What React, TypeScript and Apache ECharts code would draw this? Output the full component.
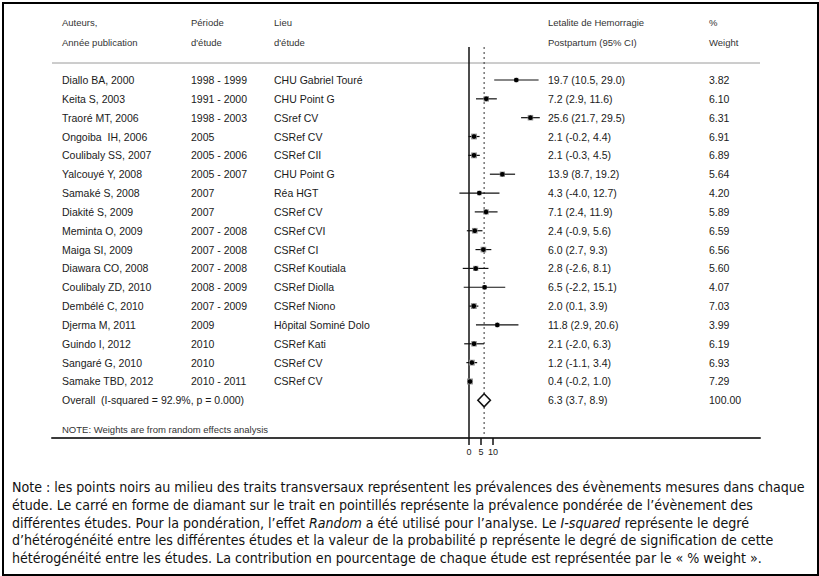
import React, { useEffect, useRef } from "react";
import * as echarts from "echarts";

// ---------- data ----------
const authors = [
  "Diallo BA, 2000", "Keita S, 2003", "Traoré MT, 2006", "Ongoiba  IH, 2006",
  "Coulibaly SS, 2007", "Yalcouyé Y, 2008", "Samaké S, 2008", "Diakité S, 2009",
  "Meminta O, 2009", "Maiga SI, 2009", "Diawara CO, 2008", "Coulibaly ZD, 2010",
  "Dembélé C, 2010", "Djerma M, 2011", "Guindo I, 2012", "Sangaré G, 2010",
  "Samake TBD, 2012",
];
const periods = [
  "1998 - 1999", "1991 - 2000", "1998 - 2003", "2005", "2005 - 2006", "2005 - 2007",
  "2007", "2007", "2007 - 2008", "2007 - 2008", "2007 - 2008", "2008 - 2009",
  "2007 - 2009", "2009", "2010", "2010", "2010 - 2011",
];
const sites = [
  "CHU Gabriel Touré", "CHU Point G", "CSref CV", "CSRef CV", "CSRef CII", "CHU Point G",
  "Réa HGT", "CSRef CV", "CSRef CVI", "CSRef CI", "CSRef Koutiala", "CSRef Diolla",
  "CSRef Niono", "Hôpital Sominé Dolo", "CSRef Kati", "CSRef CV", "CSRef CV",
];
const estimates = [19.7, 7.2, 25.6, 2.1, 2.1, 13.9, 4.3, 7.1, 2.4, 6.0, 2.8, 6.5, 2.0, 11.8, 2.1, 1.2, 0.4];
const lowerCI = [10.5, 2.9, 21.7, -0.2, -0.3, 8.7, -4.0, 2.4, -0.9, 2.7, -2.6, -2.2, 0.1, 2.9, -2.0, -1.1, -0.2];
const upperCI = [29.0, 11.6, 29.5, 4.4, 4.5, 19.2, 12.7, 11.9, 5.6, 9.3, 8.1, 15.1, 3.9, 20.6, 6.3, 3.4, 1.0];
const weights = [3.82, 6.10, 6.31, 6.91, 6.89, 5.64, 4.20, 5.89, 6.59, 6.56, 5.60, 4.07, 7.03, 3.99, 6.19, 6.93, 7.29];
const overallLabel = "Overall  (I-squared = 92.9%, p = 0.000)";
const overallEstimate = 6.3;
const overallLower = 3.7;
const overallUpper = 8.9;
const overallWeight = 100.0;
const nullValue = 0;
const xTicks = [0, 5, 10];
const headerRow1 = ["Auteurs,", "Période", "Lieu", "Letalite de Hemorragie", "%"];
const headerRow2 = ["Année publication", "d'étude", "d'étude", "Postpartum (95% CI)", "Weight"];
const footNote = "NOTE: Weights are from random effects analysis";
const noteLines: { text: string; italic?: boolean }[][] = [
  [{ text: "Note : les points noirs au milieu des traits transversaux représentent les prévalences des évènements mesures dans chaque" }],
  [{ text: "étude. Le carré en forme de diamant sur le trait en pointillés représente la prévalence pondérée de l’évènement des" }],
  [
    { text: "différentes études. Pour la pondération, l’effet " },
    { text: "Random", italic: true },
    { text: " a été utilisé pour l’analyse. Le " },
    { text: "I-squared", italic: true },
    { text: " représente le degré" },
  ],
  [{ text: "d’hétérogénéité entre les différentes études et la valeur de la probabilité p représente le degré de signification de cette" }],
  [{ text: "hétérogénéité entre les études. La contribution en pourcentage de chaque étude est représentée par le « % weight »." }],
];

// ---------- layout ----------
const COLS = [62, 191, 274, 548, 709];
const TABLE_FONT = "'Liberation Sans', Arial, sans-serif";
const NOTE_FONT = "'Liberation Sans Narrow', 'DejaVu Sans Condensed', 'Liberation Sans', sans-serif";

const fmt1 = (v: number) => v.toFixed(1);

export default function App() {
  const ref = useRef<HTMLDivElement>(null);
  useEffect(() => {
    if (!ref.current) return;
    const chart = echarts.init(ref.current, undefined, { renderer: "svg" });
    const nRows = authors.length;

    const tableData = authors.map((_, i) => [0, i]).concat([[0, nRows]]);
    const studyData = estimates.map((e, i) => [e, i, lowerCI[i], upperCI[i], weights[i]]);

    const headerTexts: any[] = [];
    [headerRow1, headerRow2].forEach((row, r) => {
      row.forEach((t, c) => {
        headerTexts.push({
          type: "text",
          x: COLS[c],
          y: r === 0 ? 22 : 42,
          style: { text: t, fill: "#333", fontSize: 9.5, fontFamily: TABLE_FONT, verticalAlign: "middle" },
        });
      });
    });

    const noteTexts = noteLines.map((parts, li) => {
      const rich: any = {
        n: { fontSize: 14.1, fontFamily: NOTE_FONT, fill: "#111" },
        it: { fontSize: 14.1, fontFamily: NOTE_FONT, fill: "#111", fontStyle: "italic" },
      };
      const text = parts.map((p) => `{${p.italic ? "it" : "n"}|${p.text}}`).join("");
      return {
        type: "text",
        x: 12,
        y: 487 + li * 17.8,
        style: { text, rich, verticalAlign: "middle", fontSize: 14.1, fontFamily: NOTE_FONT },
      };
    });

    chart.setOption({
      animation: false,
      grid: { left: 52, right: 59, top: 63, bottom: 138 },
      xAxis: {
        type: "value",
        min: -173.75,
        max: 121.25,
        splitLine: { show: false },
        axisLine: { show: true, onZero: false, lineStyle: { color: "#3a3a3a", width: 2 } },
        axisTick: { show: true, customValues: xTicks, length: 7, lineStyle: { color: "#111", width: 1.5 } },
        axisLabel: { customValues: xTicks, fontSize: 9, color: "#222", margin: 9, fontFamily: TABLE_FONT },
      },
      yAxis: { type: "value", min: -0.902, max: 19, inverse: true, show: false },
      series: [
        {
          type: "custom",
          name: "refLines",
          z: 1,
          encode: { x: 0 },
          data: [[nullValue, 0], [overallEstimate, 1]],
          renderItem: (params: any, api: any) => {
            const x = api.coord([api.value(0), 0])[0];
            const cs = params.coordSys;
            const dashed = api.value(1) === 1;
            return {
              type: "line",
              shape: { x1: x, y1: cs.y - 16, x2: x, y2: cs.y + cs.height },
              style: dashed
                ? { stroke: "#333", lineWidth: 1, lineDash: [2, 3] }
                : { stroke: "#111", lineWidth: 1.5 },
            };
          },
        },
        {
          type: "custom",
          name: "studies",
          z: 3,
          encode: { x: 0, y: 1 },
          data: studyData,
          renderItem: (params: any, api: any) => {
            const est = api.value(0);
            const row = api.value(1);
            const lo = api.value(2);
            const hi = api.value(3);
            const w = api.value(4);
            const p = api.coord([est, row]);
            const pl = api.coord([lo, row]);
            const ph = api.coord([hi, row]);
            const s = 2.2 * Math.sqrt(w);
            return {
              type: "group",
              children: [
                { type: "line", shape: { x1: pl[0], y1: p[1], x2: ph[0], y2: p[1] }, style: { stroke: "#111", lineWidth: 1.2 } },
                { type: "rect", shape: { x: p[0] - s / 2, y: p[1] - s / 2, width: s, height: s }, style: { fill: "#8c8c8c" } },
                { type: "circle", shape: { cx: p[0], cy: p[1], r: 2.3 }, style: { fill: "#000" } },
              ],
            };
          },
        },
        {
          type: "custom",
          name: "overall",
          z: 4,
          encode: { x: 0, y: 1 },
          data: [[overallEstimate, nRows, overallLower, overallUpper]],
          renderItem: (params: any, api: any) => {
            const row = api.value(1);
            const c = api.coord([api.value(0), row]);
            const l = api.coord([api.value(2), row]);
            const r = api.coord([api.value(3), row]);
            const h = 6.5;
            return {
              type: "polygon",
              shape: { points: [[l[0], c[1]], [c[0], c[1] - h], [r[0], c[1]], [c[0], c[1] + h]] },
              style: { fill: "#fff", stroke: "#111", lineWidth: 1.6 },
            };
          },
        },
        {
          type: "custom",
          name: "table",
          z: 5,
          encode: { x: 0, y: 1 },
          data: tableData,
          renderItem: (params: any, api: any) => {
            const i = params.dataIndex;
            const y = api.coord([0, api.value(1)])[1];
            const isOverall = i === nRows;
            const cells = isOverall
              ? [overallLabel, "", "", `${fmt1(overallEstimate)} (${fmt1(overallLower)}, ${fmt1(overallUpper)})`, overallWeight.toFixed(2)]
              : [authors[i], periods[i], sites[i], `${fmt1(estimates[i])} (${fmt1(lowerCI[i])}, ${fmt1(upperCI[i])})`, weights[i].toFixed(2)];
            return {
              type: "group",
              children: cells
                .map((t, c) => ({ t, c }))
                .filter((o) => o.t !== "")
                .map((o) => ({
                  type: "text",
                  x: COLS[o.c],
                  y,
                  style: { text: o.t, fill: "#1a1a1a", fontSize: 10.5, fontFamily: TABLE_FONT, verticalAlign: "middle", align: "left" },
                })),
            };
          },
        },
      ],
      graphic: [
        { type: "rect", shape: { x: 3, y: 3, width: 815, height: 572 }, style: { fill: "none", stroke: "#000", lineWidth: 2 } },
        { type: "line", shape: { x1: 52, y1: 63, x2: 760, y2: 63 }, style: { stroke: "#9a9a9a", lineWidth: 1 } },
        ...headerTexts,
        {
          type: "text",
          x: COLS[0],
          y: 429,
          style: { text: footNote, fill: "#333", fontSize: 9.5, fontFamily: TABLE_FONT, verticalAlign: "middle" },
        },
        ...noteTexts,
      ],
    });
    return () => chart.dispose();
  }, []);
  return <div ref={ref} style={{ position: "absolute", left: 0, top: 0, width: 819, height: 576, background: "#fff" }} />;
}
